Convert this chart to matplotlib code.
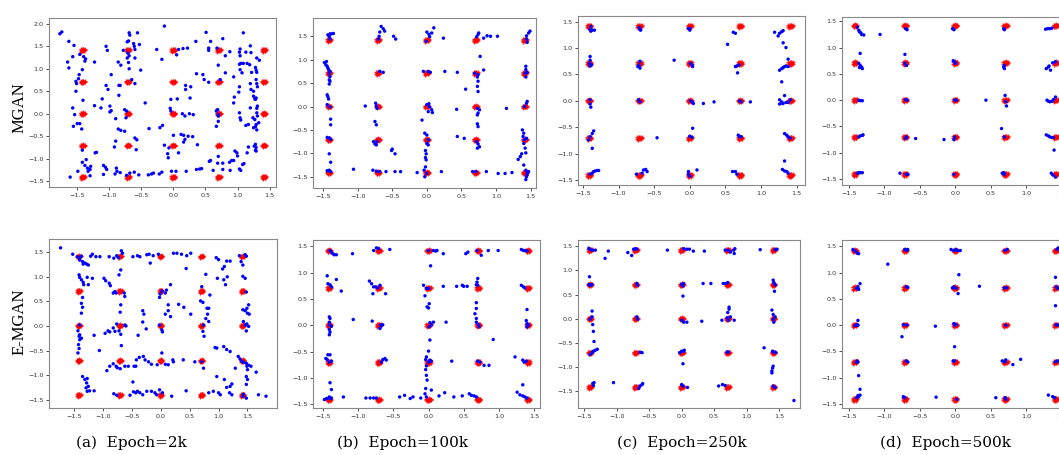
import numpy as np
import matplotlib.pyplot as plt

# centres of the 5x5 gaussian mixture (real data, red)
centres = [-1.414, -0.707, 0.0, 0.707, 1.414]
red_offsets = [(0.00, 0.00), (0.02, 0.01), (-0.02, 0.01), (0.01, -0.02), (-0.01, -0.02),
               (0.03, 0.00), (-0.03, -0.01), (0.00, 0.03), (0.01, 0.02), (-0.02, -0.03),
               (0.02, -0.01), (-0.01, 0.02), (0.03, 0.02), (-0.03, 0.02)]

# generated samples (blue), one list per panel
mgan_2k = [(-1.77, 1.78), (-1.74, 1.82), (-1.63, 1.61), (-1.55, 1.52), (-1.65, 1.15), (-1.63, 1.02),
           (-1.57, 1.27), (-1.46, 1.32), (-1.40, 1.27), (-1.37, 1.22), (-1.38, 1.17), (-1.42, 0.98),
           (-1.47, 0.87), (-1.52, 0.72), (-1.51, 0.67), (-1.52, 0.50), (-1.48, 0.78), (-1.41, 0.30),
           (-1.57, 0.13), (-1.54, -0.02), (-1.56, -0.28), (-1.50, -0.22), (-1.46, -0.22), (-1.43, -0.34),
           (-1.42, -0.81), (-1.42, -1.08), (-1.38, -1.15), (-1.34, -1.21), (-1.36, -1.02), (-1.49, -1.28),
           (-1.61, -1.41), (-1.33, -1.28), (-1.30, -1.24), (-1.29, -1.17), (-1.30, -1.38), (-1.23, 1.15),
           (-1.23, 0.18), (-1.13, 0.13), (-1.11, 0.33), (-1.20, -0.86), (-1.22, -0.87), (-1.09, -1.15),
           (-1.06, -1.19), (-1.04, -1.24), (-1.09, -1.35), (-1.05, 1.50), (-1.03, 1.41), (-0.97, 0.87),
           (-1.05, 0.63), (-1.02, 0.54), (-0.99, 0.17), (-0.97, 0.07), (-0.99, 0.04), (-0.86, 1.15),
           (-0.82, 1.08), (-0.85, 0.63), (-0.83, 0.63), (-0.85, 0.41), (-0.90, -0.11), (-0.86, -0.34),
           (-0.82, -0.37), (-0.90, -0.61), (-0.92, -0.74), (-0.89, -1.21), (-0.88, -1.28), (-0.91, -1.34),
           (-0.83, -1.31), (-0.73, -1.37), (-0.69, 1.80), (-0.68, 1.75), (-0.72, 1.60), (-0.70, 1.62),
           (-0.78, 1.41), (-0.71, 1.35), (-0.69, 1.29), (-0.72, 1.24), (-0.70, 1.14), (-0.69, 1.00),
           (-0.62, 1.56), (-0.61, 1.50), (-0.56, 1.80), (-0.53, 1.54), (-0.60, 1.43), (-0.60, 1.24),
           (-0.65, 0.76), (-0.60, 0.67), (-0.51, 0.97), (-0.76, 0.09), (-0.73, 0.06), (-0.74, -0.09),
           (-0.76, -0.39), (-0.60, -0.54), (-0.57, -0.58), (-0.58, -0.80), (-0.61, -1.30), (-0.68, -1.32),
           (-0.54, -1.36), (-0.44, 0.24), (-0.39, -1.36), (-0.34, -1.34), (-0.31, -1.32), (-0.38, -0.33),
           (-0.26, 1.43), (-0.21, -0.31), (-0.17, -0.26), (-0.18, 1.21), (-0.14, 1.95), (-0.22, -1.34),
           (-0.18, -1.30), (-0.14, -0.70), (-0.09, -0.89), (-0.08, -0.98), (-0.07, -0.76), (-0.04, 0.32),
           (-0.05, 0.12), (-0.04, 0.06), (-0.03, -1.28), (0.00, -0.48), (0.05, 1.31), (0.06, 0.33),
           (0.08, 1.43), (0.15, 1.45), (0.22, 1.46), (0.04, -1.28), (0.08, -0.87), (0.14, 0.00),
           (0.18, -0.05), (0.12, -0.46), (0.16, -0.48), (0.18, -0.57), (0.16, -0.63), (0.19, 0.63),
           (0.19, 0.54), (0.27, 0.60), (0.26, 0.35), (0.23, -0.50), (0.30, -0.51), (0.25, 0.00),
           (0.31, -0.02), (0.375, -0.69), (0.35, 1.61), (0.20, -1.28), (0.36, -1.24), (0.41, -1.23),
           (0.44, -1.22), (0.36, 0.89), (0.46, 0.87), (0.48, 0.76), (0.55, 0.70), (0.51, 1.81),
           (0.55, 1.46), (0.55, 1.41), (0.58, 1.61), (0.56, -1.06), (0.58, -1.04), (0.62, -1.26),
           (0.67, 0.06), (0.68, 0.08), (0.67, -0.28), (0.69, 0.09), (0.70, -0.95), (0.69, -1.10),
           (0.70, 1.08), (0.68, 1.46), (0.77, 1.67), (0.73, 0.76), (0.70, -0.02), (0.70, -0.05),
           (0.70, -0.17), (0.77, -1.10), (0.77, -1.24), (0.81, 1.29), (0.88, 1.38), (0.81, 0.91),
           (0.94, 0.82), (0.875, -1.08), (0.91, -1.04), (0.94, -1.04), (0.95, 0.37), (0.94, 0.24),
           (0.96, -0.83), (0.885, -1.26), (0.99, -0.87), (1.00, -0.94), (1.03, 0.60), (1.02, 0.48),
           (1.04, 1.44), (1.03, 1.37), (1.04, 1.29), (1.05, 1.12), (1.03, 1.10), (1.09, 1.12),
           (1.04, 0.98), (1.07, 0.91), (1.09, 1.80), (1.13, 1.37), (1.15, 1.12), (1.19, 1.09),
           (1.03, 0.02), (1.04, -0.09), (1.05, -0.14), (1.03, -1.23), (1.05, -1.26), (1.08, -1.13),
           (1.10, -1.11), (1.13, -0.26), (1.17, -0.24), (1.15, -0.87), (1.17, -0.74), (1.20, 1.51),
           (1.21, 1.36), (1.20, 0.13), (1.20, 0.67), (1.22, 0.92), (1.21, 0.54), (1.25, 0.50),
           (1.25, 0.39), (1.28, 0.32), (1.26, -0.72), (1.29, -0.75), (1.24, -0.09), (1.27, -0.13),
           (1.25, -0.31), (1.28, -0.29), (1.30, -0.36), (1.28, 1.03), (1.29, 0.97), (1.30, 0.92),
           (1.29, 0.76), (1.30, 0.67), (1.31, 0.60), (1.27, 0.33), (1.29, 0.35), (1.31, 0.17),
           (1.30, 0.12), (1.30, 0.02), (1.31, -0.05), (1.29, -0.24), (1.33, -0.20), (1.28, -0.68),
           (1.28, -0.81), (1.29, -0.83), (1.34, 1.19), (1.30, 1.24)]

mgan_100k = [(-1.43, 1.53), (-1.40, 1.55), (-1.38, 1.55), (-1.35, 1.56), (-1.41, 1.49), (-1.40, 1.44),
             (-1.48, 0.94), (-1.45, 0.96), (-1.46, 0.89), (-1.44, 0.86), (-1.43, 0.82), (-1.42, 0.79),
             (-1.40, 0.75), (-1.41, 0.71), (-1.40, 0.64), (-1.41, 0.57), (-1.40, 0.54), (-1.41, 0.48),
             (-1.44, 0.25), (-1.43, 0.21), (-1.42, 0.16), (-1.44, 0.04), (-1.40, -0.01), (-1.39, -0.27),
             (-1.39, -0.39), (-1.44, -0.66), (-1.41, -0.67), (-1.39, -0.70), (-1.41, -1.01), (-1.39, -1.19),
             (-1.44, -1.37), (-1.41, -1.36), (-1.39, -1.39), (-0.66, 1.71), (-0.63, 1.66), (-0.61, 1.61),
             (-0.68, 1.59), (-0.69, 1.50), (-0.70, 1.44), (-0.48, 1.50), (-0.45, 1.44), (-0.68, 0.75),
             (-0.63, 0.73), (-0.89, 0.01), (-0.73, 0.01), (-0.74, 0.07), (-0.72, -0.04), (-0.75, -0.32),
             (-0.73, -0.39), (-0.77, -0.75), (-0.75, -0.80), (-0.73, -0.82), (-0.72, -0.75), (-0.50, -0.91),
             (-0.51, -0.94), (-0.46, -1.01), (-1.06, -1.34), (-0.78, -1.36), (-0.73, -1.38), (-0.68, -1.39),
             (-0.59, -1.39), (-0.46, -1.39), (-0.38, -1.39), (0.00, 1.59), (0.03, 1.54), (0.07, 1.57),
             (0.10, 1.68), (0.04, 1.49), (0.24, 1.46), (-0.01, 1.39), (-0.05, 0.75), (0.02, 0.75),
             (0.05, 0.73), (0.26, 0.75), (0.44, 0.73), (0.00, 0.04), (0.03, 0.06), (0.04, -0.01),
             (0.07, -0.07), (0.02, -0.11), (0.08, -0.13), (-0.07, -0.29), (0.43, -0.06), (-0.03, -0.57),
             (0.00, -0.61), (0.02, -0.71), (0.00, -0.79), (0.02, -0.82), (-0.02, -0.94), (-0.01, -1.01),
             (-0.02, -1.09), (-0.01, -1.14), (-0.02, -1.29), (-0.04, -1.36), (-0.03, -1.50), (0.00, -1.43),
             (-0.14, -1.41), (0.21, -1.39), (0.44, -0.64), (0.54, -0.68), (0.56, 0.37), (0.72, 1.49),
             (0.74, 1.54), (0.75, 1.57), (0.82, 1.46), (0.87, 1.51), (0.92, 1.50), (1.02, 1.50),
             (0.77, 1.07), (0.82, 0.78), (0.69, 0.71), (0.74, 0.68), (0.73, 0.63), (0.74, 0.54),
             (0.73, 0.43), (0.74, 0.32), (0.73, -0.04), (0.76, -0.07), (0.73, -0.18), (0.74, -0.14),
             (0.73, -0.37), (0.74, -0.43), (0.72, -0.75), (0.74, -0.80), (0.76, -0.86), (0.73, -0.89),
             (0.71, -1.39), (0.66, -1.39), (0.86, -1.39), (1.03, -1.43), (1.13, -1.43), (1.23, -1.41),
             (1.15, -0.04), (1.44, 1.51), (1.47, 1.57), (1.49, 1.61), (1.44, 1.44), (1.45, 1.37),
             (1.43, 0.86), (1.43, 0.79), (1.42, 0.71), (1.45, 0.73), (1.43, 0.63), (1.41, 0.00),
             (1.44, 0.07), (1.45, 0.11), (1.38, -0.50), (1.40, -0.57), (1.39, -0.64), (1.41, -0.71),
             (1.44, -0.68), (1.40, -0.79), (1.42, -0.89), (1.43, -0.99), (1.37, -1.01), (1.35, -1.07),
             (1.32, -1.13), (1.40, -1.25), (1.43, -1.36), (1.45, -1.43), (1.44, -1.50), (1.43, -1.56),
             (1.45, -1.46), (1.47, -1.39)]

mgan_250k = [(-1.39, 1.41), (-1.40, 1.35), (-1.39, 1.32), (-1.37, 1.34), (-1.34, 1.34), (-1.40, 0.84),
             (-1.40, 0.77), (-1.41, 0.71), (-1.40, 0.66), (-1.38, 0.68), (-1.40, 0.02), (-1.40, -0.06),
             (-1.39, -0.12), (-1.35, -0.57), (-1.37, -0.62), (-1.40, -0.68), (-1.42, -0.74), (-1.37, -0.90),
             (-1.35, -1.34), (-1.33, -1.33), (-1.30, -1.32), (-1.28, -1.32), (-1.40, -1.39), (-1.37, -1.37),
             (-0.71, 1.39), (-0.70, 1.35), (-0.69, 1.34), (-0.70, 0.75), (-0.71, 0.68), (-0.73, 0.65),
             (-0.70, 0.62), (-0.72, 0.02), (-0.70, -0.02), (-0.46, -0.70), (-0.75, -1.39), (-0.67, -1.37),
             (-0.65, -1.31), (-0.62, -1.30), (-0.60, -1.34), (0.00, 1.37), (0.00, 1.34), (-0.02, 1.37),
             (-0.22, 0.77), (0.01, 0.71), (0.03, 0.68), (0.04, 0.65), (0.01, 0.00), (0.03, -0.02),
             (0.05, -0.05), (0.19, -0.05), (0.34, -0.02), (0.04, -0.52), (0.00, -0.67), (0.03, -0.69),
             (-0.02, -1.34), (-0.02, -1.39), (0.00, -1.43), (0.10, -1.31), (0.61, 1.30), (0.64, 1.28),
             (0.53, 1.07), (0.64, 0.65), (0.66, 0.66), (0.69, 0.68), (0.67, 0.53), (0.70, 0.00),
             (0.72, -0.02), (0.85, -0.02), (0.68, -0.65), (0.70, -0.68), (0.72, -0.68), (0.60, -1.34),
             (0.64, -1.34), (0.66, -1.39), (1.19, 1.30), (1.24, 1.23), (1.26, 1.28), (1.29, 1.31),
             (1.31, 1.33), (1.31, 1.10), (1.35, 1.01), (1.26, 0.58), (1.29, 0.61), (1.31, 0.63),
             (1.33, 0.65), (1.35, 0.66), (1.38, 0.65), (1.38, 0.79), (1.29, 0.36), (1.33, 0.10),
             (1.26, 0.02), (1.29, -0.02), (1.31, -0.05), (1.35, -0.03), (1.38, -0.03), (1.41, 0.02),
             (1.26, -0.06), (1.30, -0.05), (1.33, -0.62), (1.36, -0.65), (1.38, -0.68), (1.41, -0.71),
             (1.33, -1.14), (1.30, -1.30), (1.33, -1.33), (1.36, -1.34), (1.38, -1.37)]

mgan_500k = [(-1.38, 1.39), (-1.36, 1.33), (-1.35, 1.30), (-1.33, 1.28), (-1.32, 1.25), (-1.29, 1.24),
             (-1.06, 1.25), (-1.34, 0.89), (-1.36, 0.70), (-1.34, 0.66), (-1.32, 0.63), (-1.31, 0.60),
             (-1.35, 0.62), (-1.36, 0.00), (-1.34, -0.01), (-1.31, -0.01), (-1.36, -0.70), (-1.34, -0.68),
             (-1.31, -0.67), (-1.30, -0.66), (-1.38, -1.39), (-1.36, -1.38), (-1.34, -1.38), (-1.31, -1.38),
             (-0.70, 1.36), (-0.68, 1.34), (-0.71, 0.87), (-0.71, 0.70), (-0.69, 0.66), (-0.70, 0.01),
             (-0.68, 0.00), (-0.56, -0.73), (-0.69, -0.70), (-0.70, -0.73), (-0.78, -1.39), (-0.69, -1.41),
             (-0.67, -1.41), (-0.04, 1.36), (-0.02, 1.34), (-0.03, 0.75), (-0.01, 0.73), (0.00, 0.70),
             (-0.01, 0.00), (0.01, 0.00), (-0.16, -0.75), (-0.01, -0.70), (-0.02, -0.75), (-0.02, -1.41),
             (0.68, 1.36), (0.69, 1.34), (0.68, 0.63), (0.69, 0.60), (0.69, 0.66), (0.43, 0.00),
             (0.70, 0.09), (0.71, -0.03), (0.72, -0.11), (0.65, -0.54), (0.69, -0.70), (0.66, -1.39),
             (0.68, -1.38), (0.69, -1.41), (1.27, 1.35), (1.30, 1.36), (1.33, 1.36), (1.36, 1.37),
             (1.28, 0.60), (1.31, 0.63), (1.32, 0.65), (1.34, 0.57), (1.37, 0.71), (1.41, 0.73),
             (1.29, 0.00), (1.31, -0.02), (1.33, -0.03), (1.36, -0.02), (1.38, 0.01), (1.41, 0.06),
             (1.28, -0.66), (1.31, -0.68), (1.33, -0.70), (1.36, -0.71), (1.38, -0.71), (1.39, -0.95),
             (1.35, -1.39), (1.37, -1.42), (1.41, -1.46)]

emgan_2k = [(-1.73, 1.59), (-1.52, 1.46), (-1.44, 1.41), (-1.40, 1.38), (-1.37, 1.42), (-1.35, 1.31),
            (-1.34, 1.26), (-1.31, 1.28), (-1.28, 1.26), (-1.25, 1.24), (-1.40, 1.34), (-1.41, 1.04),
            (-1.40, 0.99), (-1.37, 0.94), (-1.34, 0.89), (-1.33, 0.84), (-1.27, 0.99), (-1.25, 0.84),
            (-1.18, 0.97), (-1.35, 0.58), (-1.37, 0.46), (-1.35, 0.38), (-1.37, 0.26), (-1.40, 0.02),
            (-1.43, -0.10), (-1.41, -0.21), (-1.40, -0.28), (-1.42, -0.38), (-1.41, -0.46), (-1.43, -0.55),
            (-1.37, -0.25), (-1.40, -0.18), (-1.35, -1.03), (-1.31, -1.09), (-1.27, -1.07), (-1.28, -1.16),
            (-1.29, -1.26), (-1.27, -1.33), (-1.23, -1.32), (-1.15, -1.32), (-1.25, -1.23), (-1.21, 1.42),
            (-1.18, 1.46), (-1.12, 1.41), (-1.05, 1.41), (-0.89, 1.41), (-0.76, 1.43), (-0.81, 1.38),
            (-0.73, 1.39), (-0.68, 1.53), (-0.66, 1.48), (-0.69, 1.14), (-0.72, 1.04), (-0.98, 0.97),
            (-0.95, 0.92), (-0.89, 0.87), (-0.87, 0.82), (-0.79, 0.70), (-0.77, 0.67), (-0.82, 0.67),
            (-0.63, 0.67), (-0.62, 0.60), (-0.69, 0.43), (-0.70, 0.28), (-1.15, -0.19), (-1.06, -0.50),
            (-0.96, -0.15), (-0.91, -0.10), (-0.88, -0.12), (-0.82, -0.04), (-0.79, -0.11), (-0.76, 0.04),
            (-0.72, -0.10), (-0.69, -0.17), (-0.62, 0.02), (-0.60, 0.00), (-0.68, -0.40), (-0.93, -0.91),
            (-0.88, -0.82), (-0.82, -0.77), (-0.77, -0.82), (-0.75, -0.85), (-0.70, -0.87), (-0.62, -0.82),
            (-0.56, -0.82), (-0.46, -0.82), (-0.43, -0.82), (-0.42, -0.69), (-0.37, -0.64), (-0.30, -0.62),
            (-0.27, -0.69), (-0.21, -0.73), (-0.16, -0.78), (-0.06, -0.79), (0.02, -0.55), (0.08, -0.78),
            (0.13, -0.79), (0.21, -0.69), (0.22, -0.73), (0.39, -0.69), (0.59, -0.73), (-0.81, -1.38),
            (-0.76, -1.41), (-0.48, -1.14), (-0.53, -1.41), (-0.47, -1.34), (-0.43, -1.36), (-0.40, -1.33),
            (-0.36, -1.36), (-0.31, -1.40), (-0.24, -1.33), (-0.16, -1.33), (-0.10, -1.36), (-0.07, -1.40),
            (-0.02, -1.30), (0.03, -1.36), (0.19, -1.43), (0.44, -1.32), (-0.48, 1.41), (-0.40, 1.43),
            (-0.36, 1.41), (-0.24, 1.45), (-0.20, 1.46), (-0.13, 1.43), (-0.04, 1.46), (-0.18, 1.28),
            (0.22, 1.48), (0.28, 1.48), (0.36, 1.46), (0.45, 1.43), (0.52, 1.48), (0.44, 1.17),
            (0.17, 0.84), (0.10, 0.73), (0.08, 0.67), (0.02, 0.71), (-0.01, 0.65), (-0.02, 0.58),
            (-0.31, 0.31), (-0.29, 0.24), (-0.39, -0.19), (-0.31, 0.08), (-0.25, -0.06), (-0.02, 0.02),
            (0.02, -0.08), (0.03, -0.12), (0.08, 0.24), (0.13, 0.31), (0.17, 0.19), (0.13, 0.43),
            (0.31, 0.44), (0.40, 0.38), (0.52, 0.24), (0.74, 0.02), (0.73, -0.11), (0.75, -0.21),
            (0.81, 0.24), (0.78, 0.15), (0.83, 0.09), (0.80, 0.36), (0.83, 0.36), (0.69, 0.51),
            (0.73, 0.48), (0.71, 0.80), (0.85, 0.63), (0.78, 1.05), (0.96, 1.39), (1.00, 1.35),
            (0.98, 0.97), (1.09, 0.94), (1.12, 0.84), (1.15, 1.00), (1.07, 1.16), (1.10, 1.21),
            (1.14, 1.32), (1.20, 1.32), (0.71, -0.73), (0.74, -0.86), (0.94, -0.44), (0.97, -0.45),
            (1.09, -0.42), (1.14, -0.48), (1.20, -0.52), (0.97, -1.03), (1.10, -1.09), (1.14, -1.25),
            (1.20, -1.23), (1.23, -1.18), (0.83, -1.36), (0.91, -1.33), (1.00, -1.36), (1.03, -1.40),
            (1.19, -1.36), (1.23, -1.40), (1.29, -0.86), (1.34, -0.62), (1.37, -0.67), (1.40, -0.72),
            (1.43, -0.74), (1.48, -0.76), (1.52, -0.80), (1.56, -0.82), (1.49, -0.82), (1.50, -0.89),
            (1.48, -1.03), (1.50, -1.09), (1.48, -1.19), (1.43, -1.39), (1.42, -1.43), (1.48, -1.47),
            (1.69, -1.40), (1.82, -1.43), (1.65, -0.94), (1.36, 1.43), (1.39, 1.31), (1.42, 1.24),
            (1.46, 1.45), (1.48, 1.42), (1.42, 1.01), (1.46, 0.97), (1.48, 0.69), (1.52, 0.43),
            (1.49, 0.36), (1.46, 0.31), (1.50, 0.26), (1.53, 0.24), (1.42, 0.33), (1.43, 0.09),
            (1.46, 0.02), (1.49, 0.04), (1.52, -0.01), (1.48, -0.10)]

emgan_100k = [(-1.40, 1.42), (-1.38, 1.39), (-1.36, 1.36), (-1.34, 1.34), (-1.31, 1.34), (-1.44, 0.94),
              (-1.43, 0.79), (-1.40, 0.77), (-1.38, 0.73), (-1.31, 0.87), (-1.24, 0.65), (-1.41, 0.06),
              (-1.40, 0.13), (-1.41, 0.01), (-1.38, -0.02), (-1.41, -0.08), (-1.40, -0.13), (-1.41, -0.18),
              (-1.41, 0.16), (-1.43, -0.56), (-1.40, -0.56), (-1.44, -0.65), (-1.41, -0.70), (-1.38, -0.68),
              (-1.46, -0.63), (-1.40, -1.09), (-1.38, -1.22), (-1.48, -1.41), (-1.45, -1.39), (-1.41, -1.36),
              (-1.40, -1.39), (-1.38, -1.38), (-1.21, -1.36), (-1.07, 0.11), (-1.08, 1.36), (-0.78, 1.42),
              (-0.74, 1.47), (-0.71, 1.46), (-0.55, 1.44), (-0.84, 0.84), (-0.81, 0.79), (-0.78, 0.73),
              (-0.75, 0.73), (-0.72, 0.71), (-0.79, 0.60), (-0.61, 0.60), (-0.69, 0.76), (-0.80, 0.08),
              (-0.68, 0.01), (-0.67, -0.01), (-0.65, 0.01), (-0.69, -0.06), (-0.67, -0.70), (-0.65, -0.65),
              (-0.62, -0.63), (-0.60, -0.66), (-0.89, -1.38), (-0.83, -1.38), (-0.78, -1.38), (-0.74, -1.38),
              (-0.41, -1.36), (-0.34, -1.33), (-0.26, -1.39), (-0.22, -1.36), (-0.11, -1.38), (0.00, 1.42),
              (0.07, 1.42), (0.10, 1.41), (0.12, 1.42), (0.21, 1.36), (0.03, 1.13), (-0.07, 0.76),
              (-0.03, 0.70), (0.00, 0.70), (-0.05, 0.56), (0.01, 0.41), (0.00, 0.33), (-0.02, 0.35),
              (0.21, 0.74), (0.40, 0.74), (0.48, 0.76), (0.50, 0.74), (0.55, 0.74), (0.02, 0.05),
              (0.04, 0.01), (0.07, 0.06), (0.01, -0.03), (0.25, 0.06), (0.02, -0.28), (0.00, -0.49),
              (-0.03, -0.60), (-0.04, -0.65), (0.00, -0.70), (0.02, -0.66), (0.04, -0.68), (0.33, -0.68),
              (-0.03, -0.77), (-0.04, -0.84), (-0.03, -0.95), (-0.02, -1.04), (-0.04, -1.20), (0.04, -1.23),
              (-0.05, -1.30), (-0.03, -1.36), (0.15, -1.34), (0.23, -1.28), (0.36, -1.36), (0.48, -1.34),
              (0.53, 1.36), (0.56, 1.39), (0.69, 1.42), (0.75, 1.33), (0.85, 1.42), (0.99, 1.42),
              (0.70, 0.89), (0.69, 0.82), (0.68, 0.77), (0.70, 0.76), (0.68, 0.43), (0.68, 0.32),
              (0.66, 0.22), (0.68, 0.13), (0.68, 0.06), (0.71, 0.01), (0.72, -0.03), (0.92, -0.27),
              (0.70, -0.68), (0.73, -0.70), (0.79, -0.76), (0.86, -0.76), (0.58, -1.30), (0.61, -1.33),
              (0.65, -1.34), (0.68, -1.36), (1.32, 1.44), (1.35, 1.42), (1.37, 1.42), (1.40, 1.41),
              (1.32, 0.76), (1.35, 0.73), (1.37, 0.71), (1.40, 0.30), (1.39, 0.09), (1.40, 0.03),
              (1.42, 0.01), (1.40, -0.03), (1.23, -0.60), (1.34, -0.66), (1.36, -0.70), (1.39, -0.68),
              (1.34, -1.13), (1.26, -1.27), (1.30, -1.32), (1.34, -1.34), (1.37, -1.36), (1.40, -1.38)]

emgan_250k = [(-1.43, 1.46), (-1.41, 1.43), (-1.37, 1.42), (-1.33, 1.42), (-1.13, 1.40), (-1.18, 1.25),
              (-1.42, 0.87), (-1.43, 0.71), (-1.41, 0.69), (-1.38, 0.71), (-1.38, 0.16), (-1.38, 0.04),
              (-1.41, -0.01), (-1.37, -0.12), (-1.36, -0.26), (-1.35, -0.47), (-1.36, -0.67), (-1.33, -0.65),
              (-1.30, -0.63), (-1.38, -0.70), (-1.41, -0.74), (-1.37, -1.34), (-1.36, -1.38), (-1.35, -1.32),
              (-1.05, -1.32), (-0.83, 1.37), (-0.77, 1.31), (-0.74, 1.44), (-0.71, 1.45), (-0.69, 1.44),
              (-0.69, 0.73), (-0.68, 0.69), (-0.69, 0.04), (-0.68, -0.01), (-0.64, -0.69), (-0.61, -0.70),
              (-0.66, -1.44), (-0.64, -1.39), (-0.61, -1.36), (-0.60, -1.34), (-0.22, 1.42), (0.03, 1.45),
              (0.08, 1.44), (0.12, 1.44), (0.18, 1.40), (0.35, 1.40), (0.00, 0.71), (0.02, 0.68),
              (0.03, 0.73), (0.02, 0.47), (0.00, -0.03), (0.03, -0.07), (0.08, -0.07), (0.31, -0.05),
              (-0.03, -0.70), (0.00, -0.67), (0.03, -0.67), (0.04, -0.65), (0.02, -0.93), (0.00, -1.36),
              (0.02, -1.39), (0.09, -1.42), (0.67, 1.42), (0.72, 1.42), (0.75, 1.38), (0.80, 1.42),
              (0.82, 1.45), (0.81, 1.35), (1.21, 1.43), (0.64, 0.73), (0.68, 0.73), (0.71, 0.75),
              (0.45, 0.73), (0.33, 0.73), (0.73, 0.24), (0.73, 0.20), (0.71, 0.13), (0.70, 0.02),
              (0.72, -0.03), (0.75, 0.04), (0.62, -0.03), (0.81, -0.03), (0.70, -0.69), (0.72, -0.69),
              (0.57, -1.39), (0.63, -1.36), (0.67, -1.38), (1.44, 1.43), (1.47, 1.44), (1.41, 0.80),
              (1.42, 0.75), (1.44, 0.70), (1.43, 0.57), (1.39, 0.18), (1.41, 0.09), (1.44, 0.04),
              (1.41, -0.01), (1.42, -0.07), (1.27, -0.60), (1.40, -0.67), (1.42, -0.69), (1.45, -0.70),
              (1.41, -0.98), (1.40, -1.02), (1.39, -1.08), (1.39, -1.12), (1.41, -1.39), (1.44, -1.42),
              (1.73, -1.69)]

emgan_500k = [(-1.44, 1.44), (-1.41, 1.41), (-1.38, 1.37), (-1.36, 1.36), (-1.34, 0.79), (-1.37, 0.73),
              (-1.39, 0.70), (-1.36, 0.68), (-1.37, 0.09), (-1.39, 0.01), (-1.37, 0.00), (-1.41, -0.01),
              (-1.38, -0.68), (-1.39, -0.71), (-1.37, -0.70), (-1.36, -0.96), (-1.34, -1.22), (-1.37, -1.34),
              (-1.36, -1.36), (-1.34, -1.33), (-1.39, -1.38), (-0.95, 1.16), (-0.71, 1.44), (-0.69, 1.42),
              (-0.67, 1.44), (-0.69, 0.73), (-0.67, 0.72), (-0.73, 0.01), (-0.68, 0.00), (-0.75, -0.22),
              (-0.69, -0.68), (-0.67, -0.70), (-0.73, -1.36), (-0.71, -1.38), (-0.06, 1.44), (-0.02, 1.42),
              (0.01, 1.44), (0.03, 1.42), (0.07, 1.42), (0.05, 0.96), (-0.04, 0.71), (-0.02, 0.73),
              (0.01, 0.70), (0.04, 0.60), (-0.28, -0.02), (-0.02, 0.03), (0.01, 0.01), (-0.01, 0.00),
              (-0.01, -0.41), (-0.03, -0.68), (-0.01, -0.68), (-0.27, -1.37), (0.02, -1.41), (0.70, 1.42),
              (0.73, 1.44), (0.34, 0.74), (0.69, 0.71), (0.72, 0.71), (0.71, 0.00), (0.66, -0.68),
              (0.70, -0.70), (0.71, -0.66), (0.92, -0.65), (0.81, -0.75), (0.57, -1.38), (0.70, -1.38),
              (0.71, -1.41), (1.43, 1.44), (1.45, 1.47), (1.41, 0.91), (1.42, 0.73), (1.44, 0.70),
              (1.41, 0.37), (1.42, 0.01), (1.44, 0.00), (1.41, -0.70), (1.44, -0.68), (1.31, -1.33),
              (1.37, -1.36), (1.40, -1.38)]

panels = [[mgan_2k, mgan_100k, mgan_250k, mgan_500k],
          [emgan_2k, emgan_100k, emgan_250k, emgan_500k]]
row_names = ["MGAN", "E-MGAN"]
captions = ["(a)  Epoch=2k", "(b)  Epoch=100k", "(c)  Epoch=250k", "(d)  Epoch=500k"]

# axes boxes in pixels (left, top, right, bottom) measured on the 1059x455 image
boxes = [[(49, 18, 276, 187), (313, 18, 536, 188), (578, 16, 805, 185), (842, 17, 1069, 185)],
         [(49, 239, 277, 408), (313, 240, 540, 408), (578, 240, 800, 408), (842, 240, 1069, 408)]]
xlims = [[(-1.94, 1.60), (-1.645, 1.577), (-1.57, 1.617), (-1.596, 1.60)],
         [(-1.93, 2.01), (-1.642, 1.585), (-1.597, 1.823), (-1.594, 1.60)]]
ylims = [[(-1.63, 2.13), (-1.74, 1.89), (-1.595, 1.608), (-1.614, 1.582)],
         [(-1.67, 1.77), (-1.57, 1.62), (-1.845, 1.63), (-1.576, 1.62)]]

W, H = 1059, 455
fig = plt.figure(figsize=(W / 100, H / 100), dpi=100)

red_x = [c + dx for c in centres for r in centres for dx, dy in red_offsets]
red_y = [r + dy for c in centres for r in centres for dx, dy in red_offsets]

for i in range(2):
    for j in range(4):
        l, t, r, b = boxes[i][j]
        ax = fig.add_axes([l / W, 1 - b / H, (r - l) / W, (b - t) / H])
        ax.scatter(red_x, red_y, marker='+', s=12, c='red', linewidths=0.9, alpha=0.8, zorder=2)
        pts = np.array(panels[i][j])
        ax.scatter(pts[:, 0], pts[:, 1], s=6, c='blue', edgecolors='none', zorder=3)
        ax.set_xlim(*xlims[i][j])
        ax.set_ylim(*ylims[i][j])
        ax.set_xticks([-1.5, -1.0, -0.5, 0.0, 0.5, 1.0, 1.5])
        if i == 0 and j == 0:
            ax.set_yticks([-1.5, -1.0, -0.5, 0.0, 0.5, 1.0, 1.5, 2.0])
        else:
            ax.set_yticks([-1.5, -1.0, -0.5, 0.0, 0.5, 1.0, 1.5])
        ax.tick_params(labelsize=4.6, length=2.5, width=0.6, pad=1.5, colors='#333333')
        for s in ax.spines.values():
            s.set_color('#888888')
            s.set_linewidth(0.8)

fig.text(0.018, 0.763, row_names[0], rotation=90, ha='center', va='center',
         family='Liberation Serif', fontsize=12)
fig.text(0.018, 0.292, row_names[1], rotation=90, ha='center', va='center',
         family='Liberation Serif', fontsize=12)
for k, cx in enumerate([131, 403, 682, 946]):
    fig.text(cx / W, 1 - 443 / H, captions[k], ha='center', va='center',
             family='DejaVu Serif', fontsize=11)

fig.savefig("out.png", dpi=100)
